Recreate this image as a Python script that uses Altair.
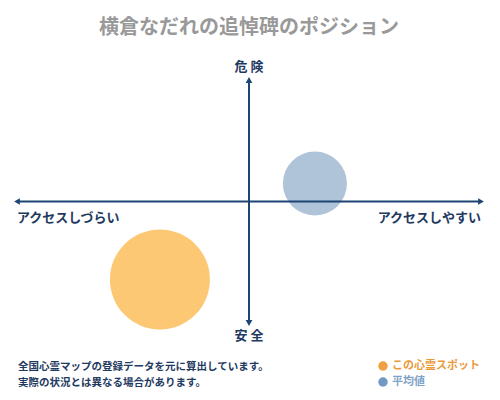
import altair as alt
import pandas as pd

TITLE = "横倉なだれの追悼碑のポジション"
names = ["この心霊スポット", "平均値"]
access = [-0.384, 0.284]      # x: アクセスしづらい(-1) … アクセスしやすい(+1)
danger = [-0.642, 0.148]      # y: 安全(-1) … 危険(+1)
bubble_size = [10000, 4100]
axis_labels = ["危 険", "安 全", "アクセスしづらい", "アクセスしやすい"]
note_lines = ["全国心霊マップの登録データを元に算出しています。", "実際の状況とは異なる場合があります。"]

FONT = "Noto Sans CJK JP"
NAVY = "#1d4573"
TEXT = "#1f3a5f"
FILLS = ["#fdc874", "#afc3d9"]
DOTS = ["#f0a020", "#1d2a3a"]
LEG_TEXT = ["#eb9a3a", "#7fa3c8"]
LEG_DOT = ["#f0a040", "#7099c4"]

pts = pd.DataFrame({"name": names, "x": access, "y": danger, "area": bubble_size})

X = alt.X("x:Q", scale=alt.Scale(domain=[-1, 1], nice=False, zero=False), axis=None)
Y = alt.Y("y:Q", scale=alt.Scale(domain=[-1, 1], nice=False, zero=False), axis=None)

bubbles = alt.Chart(pts).mark_circle(opacity=1).encode(
    x=X, y=Y,
    size=alt.Size("area:Q", scale=None),
    color=alt.Color("name:N", scale=alt.Scale(domain=names, range=FILLS), legend=None),
)
centers = alt.Chart(pts).mark_circle(opacity=1, size=10).encode(
    x=X, y=Y,
    color=alt.Color("name:N", scale=alt.Scale(domain=names, range=DOTS), legend=None),
)

lines = pd.DataFrame({"x": [-1, 0], "x2": [1, 0], "y": [0, -1], "y2": [0, 1]})
rules = alt.Chart(lines).mark_rule(color=NAVY, strokeWidth=2).encode(
    x=X, x2="x2:Q", y=Y, y2="y2:Q"
)

heads = pd.DataFrame({
    "x": [1, -1, 0, 0], "y": [0, 0, 1, -1],
    "shape": ["triangle-right", "triangle-left", "triangle-up", "triangle-down"],
})
arrows = alt.Chart(heads).mark_point(filled=True, opacity=1, color=NAVY, size=45).encode(
    x=X, y=Y, shape=alt.Shape("shape:N", scale=None)
)

def label(x, y, t, align, dy):
    return alt.Chart(pd.DataFrame({"x": [x], "y": [y], "t": [t]})).mark_text(
        font=FONT, fontSize=13, fontWeight="bold", color=TEXT, align=align,
        baseline="middle", dy=dy
    ).encode(x=X, y=Y, text="t:N")

labels = [
    label(0, 1, axis_labels[0], "center", -13),
    label(0, -1, axis_labels[1], "center", 13),
    label(-1, 0, axis_labels[2], "left", 16),
    label(1, 0, axis_labels[3], "right", 16),
]

title = alt.Chart(pd.DataFrame({"t": [TITLE]})).mark_text(
    font=FONT, fontSize=20, fontWeight="bold", color="#999999", align="center", baseline="middle"
).encode(x=alt.value(232), y=alt.value(-52), text="t:N")

notes = [
    alt.Chart(pd.DataFrame({"t": [line]})).mark_text(
        font=FONT, fontSize=10.5, fontWeight="bold", color=TEXT, align="left", baseline="middle"
    ).encode(x=alt.value(1), y=alt.value(287 + 16 * i), text="t:N")
    for i, line in enumerate(note_lines)
]

legend = []
for i, nm in enumerate(names):
    legend.append(alt.Chart(pd.DataFrame({"t": [nm]})).mark_circle(size=90, opacity=1, color=LEG_DOT[i]).encode(
        x=alt.value(366), y=alt.value(286 + 16 * i)))
    legend.append(alt.Chart(pd.DataFrame({"t": [nm]})).mark_text(
        font=FONT, fontSize=11, fontWeight="bold", color=LEG_TEXT[i], align="left", baseline="middle"
    ).encode(x=alt.value(375), y=alt.value(286 + 16 * i), text="t:N"))

chart = alt.layer(bubbles, centers, rules, arrows, *labels, title, *notes, *legend).properties(
    width=464, height=243,
    autosize="none",
    padding={"left": 9, "top": 72, "right": 11, "bottom": 69},
).configure_view(stroke=None)

chart.save("out.html", embed_options={"renderer": "svg", "actions": False})
